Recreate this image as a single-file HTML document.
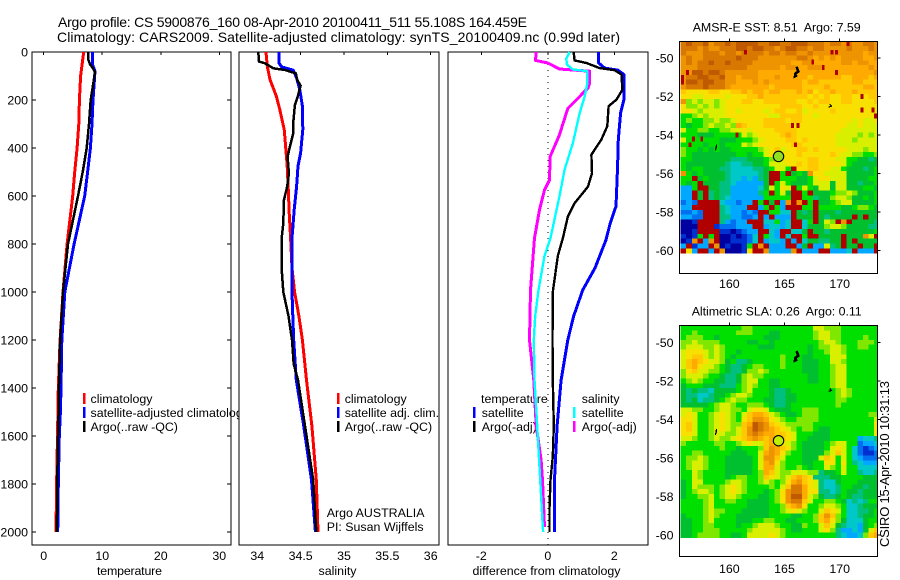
<!DOCTYPE html>
<html><head><meta charset="utf-8"><title>Argo profile</title>
<style>
html,body{margin:0;padding:0;background:#fff;width:900px;height:580px;overflow:hidden}
svg{display:block;font-family:"Liberation Sans",sans-serif;font-size:12.4px;fill:#000}
</style></head>
<body>
<svg id="chart" xmlns="http://www.w3.org/2000/svg" width="900" height="580" viewBox="0 0 900 580">
<rect x="0" y="0" width="900" height="580" fill="#fff"/>
<text x="58" y="27" font-size="14" textLength="469">Argo profile: CS 5900876_160 08-Apr-2010 20100411_511 55.108S 164.459E</text>
<text x="57" y="42" font-size="14" textLength="563">Climatology: CARS2009. Satellite-adjusted climatology: synTS_20100409.nc (0.99d later)</text>
<text x="889" y="547" font-size="13" textLength="166" transform="rotate(-90 889 547)">CSIRO 15-Apr-2010 10:31:13</text>
</svg>
<script>
// ---------- axis ticks ----------
const depthTicks = [0,200,400,600,800,1000,1200,1400,1600,1800,2000];
const tempTicks = [0,10,20,30];
const salTicks = [34,34.5,35,35.5,36];
const diffTicks = [-2,0,2];
const lonTicks = [160,165,170];
const latTicks = [-50,-52,-54,-56,-58,-60];

// ---------- temperature panel ----------
const tempClimDepth = [0,100,200,300,400,500,600,800,1000,1200,1400,1600,1800,2000];
const tempClimValues = [6.83,6.3,6.1,6.0,5.7,5.3,4.95,4.0,3.3,2.8,2.5,2.35,2.2,2.1];
const tempSatDepth = [0,50,80,200,300,400,500,600,800,1000,1200,1400,1500,1600,1800,2000];
const tempSatValues = [8.37,8.3,8.77,8.43,8.26,7.97,7.5,7.0,5.2,3.6,3.1,2.96,2.85,2.66,2.5,2.4];
const tempArgoDepth = [0,30,50,70,85,200,300,400,500,600,800,1000,1200,1400,1500,1600,1800,2000];
const tempArgoValues = [7.57,7.6,7.9,8.45,8.77,8.03,7.74,7.35,6.67,5.86,4.15,3.3,2.8,2.6,2.55,2.45,2.3,2.25];

// ---------- salinity panel ----------
const salClimDepth = [0,60,115,185,240,323,393,476,574,671,775,900,1000,1100,1200,1367,1558,1783,2000];
const salClimValues = [34.10,34.115,34.146,34.22,34.26,34.31,34.326,34.345,34.357,34.368,34.384,34.40,34.43,34.48,34.52,34.568,34.63,34.68,34.70];
const salSatDepth = [0,46,62,76,108,157,226,323,421,476,560,657,775,900,1000,1100,1200,1367,1558,1783,2000];
const salSatValues = [34.25,34.25,34.28,34.414,34.453,34.49,34.52,34.525,34.50,34.47,34.453,34.426,34.40,34.40,34.40,34.41,34.42,34.45,34.535,34.625,34.67];
const salArgoDepth = [0,40,47,68,75,89,117,140,179,221,283,339,394,436,506,561,617,714,777,900,1000,1100,1200,1300,1367,1558,1783,2000];
const salArgoValues = [34.012,34.02,34.089,34.184,34.319,34.445,34.46,34.50,34.472,34.434,34.418,34.414,34.376,34.35,34.365,34.345,34.307,34.30,34.28,34.28,34.30,34.36,34.40,34.42,34.47,34.55,34.645,34.68];

// ---------- difference panel ----------
const diffTempSatDepth = [0,46,67,76,94,198,254,365,476,643,712,783,900,992,1100,1200,1300,1367,1558,1783,2000];
const diffTempSatValues = [1.52,1.53,1.71,2.11,2.29,2.29,2.19,2.12,2.10,2.05,1.88,1.75,1.42,1.05,0.78,0.6,0.48,0.40,0.28,0.20,0.20];
const diffTempArgoDepth = [0,35,46,67,76,94,158,198,226,309,365,428,505,561,630,685,775,850,1000,1200,1367,1558,1686,1783,1900,2000];
const diffTempArgoValues = [0.776,0.806,1.16,1.56,2.01,2.22,2.24,2.07,1.83,1.79,1.61,1.31,1.33,1.21,0.806,0.605,0.454,0.30,0.15,0.14,0.15,0.18,0.15,0.08,0.05,0.05];
const diffSalSatDepth = [0,28,52,73,80,129,185,254,379,490,601,775,850,992,1100,1200,1367,1558,1783,2000];
const diffSalSatValues = [0.655,0.555,0.575,0.756,1.19,1.19,1.11,0.96,0.756,0.505,0.353,0.08,-0.10,-0.28,-0.38,-0.42,-0.40,-0.32,-0.23,-0.14];
const diffSalArgoDepth = [0,35,46,71,80,129,150,192,235,346,436,533,575,658,775,992,1200,1367,1558,1700,1783,1980];
const diffSalArgoValues = [-0.35,-0.37,0,0.35,1.26,1.26,1.21,0.91,0.60,0.35,0.07,0.05,-0.10,-0.25,-0.40,-0.52,-0.55,-0.42,-0.35,-0.20,-0.16,-0.10];

// ---------- SST heatmap (0.5 x 0.25 degree cells, a=coldest .. p=warmest, x=flagged) ----------
const sstRows = [
"opoopn oopopp ppoopp oopppo oonoon onnoon",
"ooonon nooopp oppoon oppoon oonnnn onnnon",
"onnnoo onoono ooonoo noonno nnnnnn nnnmnn",
"nonnoo oooopo oonnnn nnnoon mnmnmn nnnmmn",
"nonoop oopooo onnnnn nnmmnn mmmmmn nmnnmm",
"nnnooo oooooo nnnnnn mnnmmn nnmmmm mmmmnm",
"nnppop ponnnn nnmmmm mmmmmm mmmmmm mmmmmn",
"nooppo opnnmn nnmmmn mmmmml mmmmml lmmmlm",
"nppopp oonnmm mnmnmm mmmmlm mlllll lmmlll",
"nooopo oonmmm mmmmlm mmmmll llmlll lllmml",
"lkkkkl lkkllm lmmlmm lllmlm kllmll lmllll",
"kkjjkk kkjkkk llmlll lllllk lklkkl lkkkll",
"nijijj ijkkkl lkklll lllkkl kllkkl lkkkkl",
"kiijij ijkkkk kkkkkk llllkk lkkkkk kkkkkk",
"kkjijj jjkkjk kkkjkl lkkljk kkklkk kkkkkk",
"hhijij jjkkkk kkkkjj llllkk jkkkkk kkkkkk",
"hihhii jiijkk kkklll lkllkk kkkkkk kjkjjk",
"hghhij iijiml kkklll llkkkk kkkkkk jjkjjj",
"jhhiih hiijjk jkkkkl lllkkk kkkkkj jjjjjj",
"hhhggg hhhhhj ijkkkk lmlkkk kkkkjj jjijij",
"jhhhhh hggghh hijkkk kllklk kkkkjj jijjjj",
"hhhhgh hghhhj ijkkkk kkllkk kkkkjj jjjjjj",
"ihhghg hgghhh hhijkl jkkllk lkkkkk jjjijj",
"ihgggg gggghh ghhjkk kkklkk kkklkj jiihhi",
"hhgggg gggfff ggghij kkkkkl lkkkjj hhggfg",
"hggggg ggfeef fgghjj jkklkl lkkkkj hggggg",
"hghhgg gffeee effghj jhxkkl lkkjjh gggfgh",
"nhghgg ggfeee eefgxx hxghgn kkjjjj gggggh",
"hhxghg ggfeed edfgxx hhhggh jkkjjj gggghh",
"hghxgg gffedd dddgxh jhgggh jjjgjj ggfggh",
"ddhxxg gffddd ddegjh kjxhjh gjjgjj ggghhg",
"ddxgxf gffddd ddfhxh jgxxhx ggghii jigggh",
"ddxgxf gfeddd dddhhh hhxxhh fggijj igghgh",
"cdcxxx xeddcd dxhxgx dnxnxh xgghij jggggh",
"ddxxxx xfeddd xxdhxh dxxxhh xhhhhg ghiihg",
"ccdcxx xfeddc dcxxhh eexgfg xgggfg gggggg",
"ddccxx xffddc cdxdxd ddxggg xgfggg gxgxgg",
"aabxxx xfdcdd xxxeeh dexxeh xgjixn xggggf",
"aaaxxx bcccdd dxxdee dexxeg ggijji ggggff",
"aabxxx xbbabc ddxxed xxeegx ggfggg gggggh",
"babhxh xaabab cexhed xexxhx xggggx gggnjx",
"abnxdn xaabbb cexdee dxdxeg gffggx gxgggg",
"dxbddx nabaab hxnxdd dxxdgx ddjfgx ggxggx",
"xkdxxd xnaaab kxxndd ddnxdd dxxddd exdddx"
];
const sstFlagLon = [161.45,169.3,169.7,170.75,167.55,168.5,169.7,156.2,155.75,155.75,172,172,173,173.25,165.7,166.2,160.7,156.75,157.5,166,156.45];
const sstFlagLat = [-49.7,-49.7,-49.7,-49.25,-50.2,-50.5,-50.75,-50.75,-51,-51.25,-52,-52.7,-52.7,-53,-53.5,-53.5,-54,-54.2,-54.2,-54.5,-54.5];

// ---------- SLA heatmap ----------
const slaRows = [
"hhhhhh hhhhhi ihhhhh hhhhhh jjiiih hhhhhh",
"hhihhh hhhhii ihhhgg hhhhhh ijjiih hhhhhh",
"hiiihh ghhhhh hhhggg hhhhhh ijjiih hhhihh",
"iijiii ihhhhh gghhgh hhhhhh hijjih hhiiih",
"ijjjii jihhhh hhgggh hhhhhg hiijji hhiihh",
"jkkkji jihhgh hhhhhh hhhhhg hhijji hhhhhh",
"jkllji jihghh hhhhhh ihhhgg hhhjjj hhhhhh",
"jlmlkj jighff ghhhhh ihhhgg ghhjji hhhhhh",
"jlmkjj ihgffg hiihhh ihhhgg ghhijj hhhhhh",
"ikljji ihgffg iijihh hhhhgg ghhijj hhhhhh",
"ijjjih hgffgi jiihhh hhhhhg ghhijj hhhhhh",
"hijihh ggffgi jjhhgg hhhhhg ghhijj hhhhhh",
"ghhhgg gfffhi jihhgg hhhhhh hhhijj hhhhhh",
"gfgffe gggghi jhhhgf fghhhh hhhhij ihhhhh",
"gffeef gghijj ihhhgf fgghhh hhhhij ihhhhh",
"gfgeff ghijii hhhggf fgghhh hhhhii hhhhhh",
"gggggh ijjihh iiihgf fghhhh hhhhih hhhhhh",
"jjiihh ijjiih jkkjhg gghhii ihhhhh hhhhhh",
"jkjhhi jkjihj lmmlji hgghii ihhhhh hhhhii",
"kkjhhi jkjihk lnnmkj ihhiii ihhhhh hhhhhj",
"kljhhi jkjiil mponlk jiiiii hhhhhh hhhhhk",
"kljhhi jkjijl nponml kjihii hgghhh hhhhhk",
"kkjhhi jjiijl nonmml lkjhhh ggghhh hhhhhk",
"jjihhi jiijkl mnmlml lkjhhg ggghhh hhdeef",
"ihhhhh iihhij kjjlmk kjihgg gghijj hhcdde",
"hhhhhh hihhgh hhilnm lkihgg gghjkj hecbcd",
"hhiihh hhhggg hhjmnm kihhgg ggijlj hecbbc",
"hiijih hhgggg ghjnnl jhhhgg gjlkhj hedccc",
"hijjih hhgggg ghjmnk ihhhgg hhkkhk hfeddd",
"hijjih hhgggg ghjmmj ihhihg hhjihj hheeee",
"hhjihh hhgggg ghimlj iijjji ifgghj hhfeef",
"hhjihh hhghii hhilkj ijlmlk fffggh hhhggg",
"ghjjhh hhijji hhijih ikmnlk jfeegh hhgggg",
"ghjiii hijkji hhhhih jloomk jfeefh hggfgg",
"ghijji hijkji hhhghi knoomk kffefh ggfggg",
"ghhiij hijjih hhgghi knppmj igffgh gffggg",
"hhhhij hhiihh gggghi knoolj hhiihg efefhh",
"hhhhij hhhhhh gggghh ilmnkh hijjih eefggg",
"hhhhij iihhhg gggghh ijkjih hjlkjh eeffgh",
"ghhhij ihhhgg gggghh hhgghh ilnlih eefggh",
"gghhij hhhhgg ghhiih hgghhh ilmkig eeeghh",
"gghhii hhhhgh hijjji hhggih hjljgf eedghi",
"gghhii ihhhhh ijjjjj ihgghh hjkifd dedgjl",
"gghiii ihhggh jjjjkj ihhhhh hhhhfe ddeilm"
];

// ---------- Argo float and coastline (lon, lat) ----------
const floatLon = [164.459];
const floatLat = [-55.108];
const islandALon = [166.1,166.25,166.0,165.95,166.15];
const islandALat = [-50.45,-50.7,-50.8,-50.95,-50.9];
const islandBLon = [169.0,169.25,169.1];
const islandBLat = [-52.55,-52.5,-52.4];
const islandCLon = [158.75,158.85,158.8];
const islandCLat = [-54.8,-54.5,-54.7];

// ---------- drawing ----------
const svg = document.getElementById('chart');
const NS = 'http://www.w3.org/2000/svg';
function make(tag, attrs, text) {
  const el = document.createElementNS(NS, tag);
  for (const k in attrs) el.setAttribute(k, attrs[k]);
  if (text !== undefined) el.textContent = text;
  svg.appendChild(el);
  return el;
}
function linear(d0, d1, r0, r1) { return v => r0 + (v - d0) * (r1 - r0) / (d1 - d0); }

const depthY = linear(0, 2000, 52, 532);
const PANEL_TOP = 52, PANEL_BOTTOM = 545;

function drawPanel(slug, left, right, xOf, ticks, xlabel, titleLeft, titleWidth) {
  const bg = make('rect', {x:left, y:PANEL_TOP, width:right-left, height:PANEL_BOTTOM-PANEL_TOP, fill:'#fff', stroke:'#000', 'stroke-width':1, 'shape-rendering':'crispEdges'});
  
  
  ticks.forEach(t => {
    const x = xOf(t);
    const tick = make('line', {x1:x, x2:x, y1:PANEL_TOP, y2:PANEL_TOP+3, stroke:'#000', 'shape-rendering':'crispEdges'});
    
    
    const label = make('text', {x:x, y:560, 'text-anchor':'middle'}, String(t));
    
    
  });
  const title = make('text', {x:titleLeft, y:575, textLength:titleWidth}, xlabel);
  
  
}
function drawProfile(name, depths, values, xOf, color, width) {
  const pts = depths.map((d, i) => xOf(values[i]).toFixed(1) + ',' + depthY(d).toFixed(1)).join(' ');
  const line = make('polyline', {points:pts, fill:'none', stroke:color, 'stroke-width':width, 'shape-rendering':'crispEdges', 'stroke-linejoin':'round'});
  
  
}
function legendRow(slug, barX, textX, baseline, color, text) {
  if (color) {
    const bar = make('rect', {x:barX, y:baseline-10, width:2.6, height:11, fill:color, 'shape-rendering':'crispEdges'});
    
    
  }
  const t = make('text', {x:textX, y:baseline}, text);
  
  
}

// panel 1: temperature
const tempX = linear(0, 30, 43.7, 219.3);
drawPanel('temperature', 32, 231, tempX, tempTicks, 'temperature', 97, 65);
depthTicks.forEach(d => {
  const y = depthY(d);
  const l = make('line', {x1:32, x2:36, y1:y, y2:y, stroke:'#000', 'shape-rendering':'crispEdges'});
  
  
  const r = make('line', {x1:227, x2:231, y1:y, y2:y, stroke:'#000', 'shape-rendering':'crispEdges'});
  
  
  const lab = make('text', {x:28, y:y+4.5, 'text-anchor':'end'}, String(d));
  
  
});
legendRow('temperature-legend-climatology', 83, 90.5, 403, '#f00', 'climatology');
legendRow('temperature-legend-satellite', 83, 90.5, 417, '#00f', 'satellite-adjusted climatology');
legendRow('temperature-legend-argo', 83, 90.5, 431, '#000', 'Argo(..raw -QC)');
drawProfile('temperature-climatology-line', tempClimDepth, tempClimValues, tempX, '#f00', 3);
drawProfile('temperature-satellite-line', tempSatDepth, tempSatValues, tempX, '#00f', 3);
drawProfile('temperature-argo-line', tempArgoDepth, tempArgoValues, tempX, '#000', 2.5);

// panel 2: salinity
const salX = linear(34, 36, 257.3, 430.7);
drawPanel('salinity', 239, 439, salX, salTicks, 'salinity', 318.5, 38);
legendRow('salinity-legend-climatology', 337, 344.7, 403, '#f00', 'climatology');
legendRow('salinity-legend-satellite', 337, 344.7, 417, '#00f', 'satellite adj. clim.');
legendRow('salinity-legend-argo', 337, 344.7, 431, '#000', 'Argo(..raw -QC)');
drawProfile('salinity-climatology-line', salClimDepth, salClimValues, salX, '#f00', 3);
drawProfile('salinity-satellite-line', salSatDepth, salSatValues, salX, '#00f', 3);
drawProfile('salinity-argo-line', salArgoDepth, salArgoValues, salX, '#000', 2.5);
legendRow('argo-country', 0, 326.7, 517, null, 'Argo AUSTRALIA');
legendRow('principal-investigator', 0, 326.7, 531, null, 'PI: Susan Wijffels');

// panel 3: difference
const diffX = linear(-2, 2, 481.3, 614.3);
drawPanel('difference', 448, 648, diffX, diffTicks, 'difference from climatology', 472.5, 148);
const zeroLine = make('line', {x1:diffX(0), x2:diffX(0), y1:PANEL_TOP, y2:PANEL_BOTTOM, stroke:'#000', 'stroke-dasharray':'1 5', 'shape-rendering':'crispEdges'});


legendRow('difference-legend-temperature', 0, 481, 403, null, 'temperature');
legendRow('difference-legend-temp-satellite', 473, 481.7, 417, '#00f', 'satellite');
legendRow('difference-legend-temp-argo', 473, 481.7, 431, '#000', 'Argo(-adj)');
legendRow('difference-legend-salinity', 0, 581.7, 403, null, 'salinity');
legendRow('difference-legend-sal-satellite', 573, 581.7, 417, '#0ff', 'satellite');
legendRow('difference-legend-sal-argo', 573, 581.7, 431, '#f0f', 'Argo(-adj)');
drawProfile('difference-temp-satellite-line', diffTempSatDepth, diffTempSatValues, diffX, '#00f', 3);
drawProfile('difference-temp-argo-line', diffTempArgoDepth, diffTempArgoValues, diffX, '#000', 2.4);
drawProfile('difference-sal-argo-line', diffSalArgoDepth, diffSalArgoValues, diffX, '#f0f', 3);
drawProfile('difference-sal-satellite-line', diffSalSatDepth, diffSalSatValues, diffX, '#0ff', 2.4);

// maps
const LEVELS = 'abcdefghijklmnopx';
function levelColor(ch) {
  const scale = ['#0000a0','#0030d0','#0070f0','#00a8ff','#00c8c8','#00c080','#00c030','#00e000','#80e800','#d8f000','#f8e000','#ffc800','#ffaa00','#ee9400','#d87800','#c05a00','#b00000'];
  return scale[LEVELS.indexOf(ch)] || '#fff';
}
const LON_LEFT = 155.46, LON_RIGHT = 173.41;
const GRID_LON0 = 155.6, GRID_LAT0 = -49.125, CELL_LON = 0.5, CELL_LAT = 0.25;

function drawMap(slug, titleText, box, y50, rows, markerFill, xLabelBaseline) {
  const lonX = linear(160, 170, 729.3, 839.7);
  const latY = linear(-50, -60, y50, y50 + 192.7);
  const bg = make('rect', {x:box.left, y:box.top, width:box.right-box.left, height:box.bottom-box.top, fill:'#fff', 'shape-rendering':'crispEdges'});
  
  
  rows.forEach((rawRow, r) => {
    const row = rawRow.replace(/ /g, '');
    for (let c = 0; c < row.length; c++) {
      const lon0 = GRID_LON0 + c * CELL_LON;
      const lon1 = Math.min(lon0 + CELL_LON, LON_RIGHT);
      const lat0 = GRID_LAT0 - r * CELL_LAT;
      const cell = make('rect', {x:lonX(lon0).toFixed(2), y:latY(lat0).toFixed(2), width:(lonX(lon1)-lonX(lon0)+0.4).toFixed(2), height:(latY(lat0-CELL_LAT)-latY(lat0)+0.4).toFixed(2), fill:levelColor(row[c]), 'shape-rendering':'crispEdges'});
      
      
    }
  });
  if (slug === 'sst') {
    sstFlagLon.forEach((lon, i) => {
      const flag = make('rect', {x:lonX(lon-0.125).toFixed(2), y:latY(sstFlagLat[i]+0.125).toFixed(2), width:2.9, height:4.9, fill:levelColor('x'), 'shape-rendering':'crispEdges'});
      
      
    });
  }
  [[islandALon, islandALat, 'island-a', 2.6], [islandBLon, islandBLat, 'island-b', 1.2], [islandCLon, islandCLat, 'island-c', 1.2]].forEach(isl => {
    const pts = isl[0].map((lon, i) => lonX(lon).toFixed(1) + ',' + latY(isl[1][i]).toFixed(1)).join(' ');
    const coast = make('polyline', {points:pts, fill:'none', stroke:'#000', 'stroke-width':isl[3], 'shape-rendering':'crispEdges'});
    
    
  });
  const marker = make('circle', {cx:lonX(floatLon[0]), cy:latY(floatLat[0]), r:5.2, fill:markerFill, stroke:'#000', 'stroke-width':1.1});
  
  
  const frame = make('rect', {x:box.left, y:box.top, width:box.right-box.left, height:box.bottom-box.top, fill:'none', stroke:'#000', 'shape-rendering':'crispEdges'});
  
  
  lonTicks.forEach(t => {
    const x = lonX(t);
    const tick = make('line', {x1:x, x2:x, y1:box.top-3, y2:box.top, stroke:'#000', 'shape-rendering':'crispEdges'});
    
    
    const lab = make('text', {x:x, y:xLabelBaseline, 'text-anchor':'middle'}, String(t));
    
    
  });
  latTicks.forEach(t => {
    const y = latY(t);
    const tick = make('line', {x1:box.right, x2:box.right+3, y1:y, y2:y, stroke:'#000', 'shape-rendering':'crispEdges'});
    
    
    const lab = make('text', {x:673.5, y:y+4.5, 'text-anchor':'end'}, String(t));
    
    
  });
  const title = make('text', {x:(box.titleLeft), y:box.top-9.6, textLength:box.titleWidth, style:'white-space:pre'}, titleText);
  
  
}
drawMap('sst', 'AMSR-E SST: 8.51  Argo: 7.59', {left:679.3, right:877.3, top:41.3, bottom:273.3, titleLeft:692.7, titleWidth:168}, 58, sstRows, '#90e020', 288);
drawMap('sla', 'Altimetric SLA: 0.26  Argo: 0.11', {left:679.3, right:877.3, top:325.3, bottom:556.7, titleLeft:691.7, titleWidth:170}, 342.3, slaRows, '#c0f000', 573);
</script>
</body></html>
